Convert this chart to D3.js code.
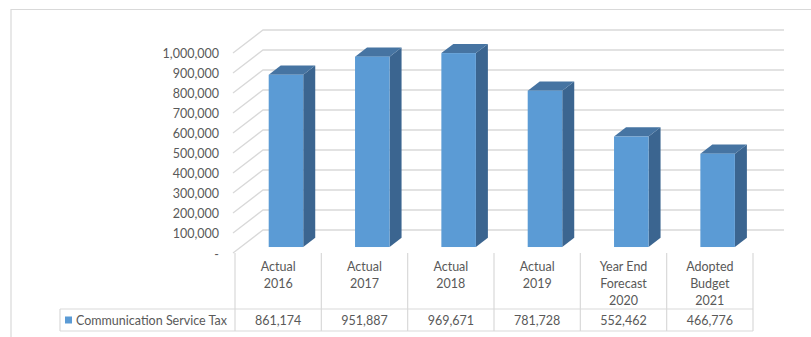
<!DOCTYPE html>
<html>
<head>
<meta charset="utf-8">
<script src="https://cdn.jsdelivr.net/npm/d3@7"></script>
<style>
  html, body { margin: 0; padding: 0; background: #fff; }
  svg { display: block; }
  text { font-family: Lato, "Open Sans", sans-serif; fill: #595959; }
</style>
</head>
<body>
<svg id="chart" width="811" height="337"></svg>
<script>
// ---- data ----
const categories = [
  ["Actual", "2016"],
  ["Actual", "2017"],
  ["Actual", "2018"],
  ["Actual", "2019"],
  ["Year End", "Forecast", "2020"],
  ["Adopted", "Budget", "2021"]
];
const seriesName = "Communication Service Tax";
const values = [861174, 951887, 969671, 781728, 552462, 466776];
const yTicks = [0, 100000, 200000, 300000, 400000, 500000, 600000, 700000, 800000, 900000, 1000000];
const yTickLabels = ["-", "100,000", "200,000", "300,000", "400,000", "500,000", "600,000", "700,000", "800,000", "900,000", "1,000,000"];

// ---- layout ----
const svg = d3.select("#chart");
const gridColor = "#d9d9d9";
const FS = 12.5;
const DX = 30, DY = 23;           // full floor depth offset
const Z0 = 0.26, Z1 = 0.66;       // bar depth range
const x = d3.scaleBand().domain(d3.range(categories.length)).range([235, 753]).padding(0);
const y = d3.scaleLinear().domain([0, 1000000]).range([253, 53]);
const P = (xv, v, z) => [xv + DX * z, y(v) - DY * z];

// outer frame
svg.append("path")
  .attr("d", "M11,337 V9.5 H811")
  .attr("fill", "none").attr("stroke", "#d9d9d9").attr("stroke-width", 1.2);

// gridlines: back wall + left wall diagonals
const grid = svg.append("g").attr("stroke", gridColor).attr("stroke-width", 1.3).attr("fill", "none");
yTicks.forEach(v => {
  const f = P(x.range()[0] - 2, v, 0);
  const b = P(x.range()[0] - 2, v, 1);
  const e = P(x.range()[1] + 1, v, 1);
  grid.append("path").attr("d", `M${f[0]},${f[1]} L${b[0]},${b[1]} L${e[0]},${e[1]}`);
});

// y labels
svg.append("g").selectAll("text").data(yTicks).join("text")
  .attr("x", 219)
  .attr("y", (d, i) => y(d) + 4.5 + (i === 0 ? 1 : 0))
  .attr("text-anchor", "end")
  .attr("font-size", FS)
  .text((d, i) => yTickLabels[i]);

// bars
const bw = x.bandwidth() * 0.4;
const bars = svg.append("g");
values.forEach((v, i) => {
  const xl = x(i) + (x.bandwidth() - bw) / 2;
  const xr = xl + bw;
  const pts = a => a.map(p => p.join(",")).join(" ");
  // side
  bars.append("polygon")
    .attr("points", pts([P(xr, 0, Z0), P(xr, v, Z0), P(xr, v, Z1), P(xr, 0, Z1)]))
    .attr("fill", "#3b6590");
  // top
  bars.append("polygon")
    .attr("points", pts([P(xl, v, Z0), P(xr, v, Z0), P(xr, v, Z1), P(xl, v, Z1)]))
    .attr("fill", "#4674a2");
  // front
  const a = P(xl, v, Z0), b = P(xr, 0, Z0);
  bars.append("rect")
    .attr("x", a[0]).attr("y", a[1])
    .attr("width", b[0] - a[0]).attr("height", b[1] - a[1])
    .attr("fill", "#5b9bd5");
});

// data table
const table = svg.append("g").attr("stroke", gridColor).attr("stroke-width", 1.2).attr("fill", "none");
const tTop = 253, rowTop = 309, rowBot = 331, legLeft = 60;
table.append("line").attr("x1", legLeft).attr("x2", x.range()[1]).attr("y1", rowTop).attr("y2", rowTop);
table.append("line").attr("x1", legLeft).attr("x2", x.range()[1]).attr("y1", rowBot).attr("y2", rowBot);
table.append("line").attr("x1", legLeft).attr("x2", legLeft).attr("y1", rowTop).attr("y2", rowBot);
d3.range(categories.length).concat([categories.length]).forEach(i => {
  const xv = i < categories.length ? x(i) : x.range()[1];
  table.append("line").attr("x1", xv).attr("x2", xv).attr("y1", tTop).attr("y2", rowBot);
});

// category labels
const cat = svg.append("g");
categories.forEach((lines, i) => {
  const t = cat.append("text")
    .attr("x", x(i) + x.bandwidth() / 2)
    .attr("text-anchor", "middle")
    .attr("font-size", FS);
  lines.forEach((ln, j) => {
    t.append("tspan").attr("x", x(i) + x.bandwidth() / 2).attr("y", 271 + j * 17.2).text(ln);
  });
});

// value row
svg.append("g").selectAll("text").data(values).join("text")
  .attr("x", (d, i) => x(i) + x.bandwidth() / 2)
  .attr("y", 324.5)
  .attr("text-anchor", "middle")
  .attr("font-size", FS)
  .text(d => d3.format(",")(d));

// legend key
svg.append("rect").attr("x", 65).attr("y", 316.5).attr("width", 7).attr("height", 7).attr("fill", "#5b9bd5");
svg.append("text").attr("x", 76).attr("y", 324.5).attr("font-size", FS).text(seriesName);
</script>
</body>
</html>
